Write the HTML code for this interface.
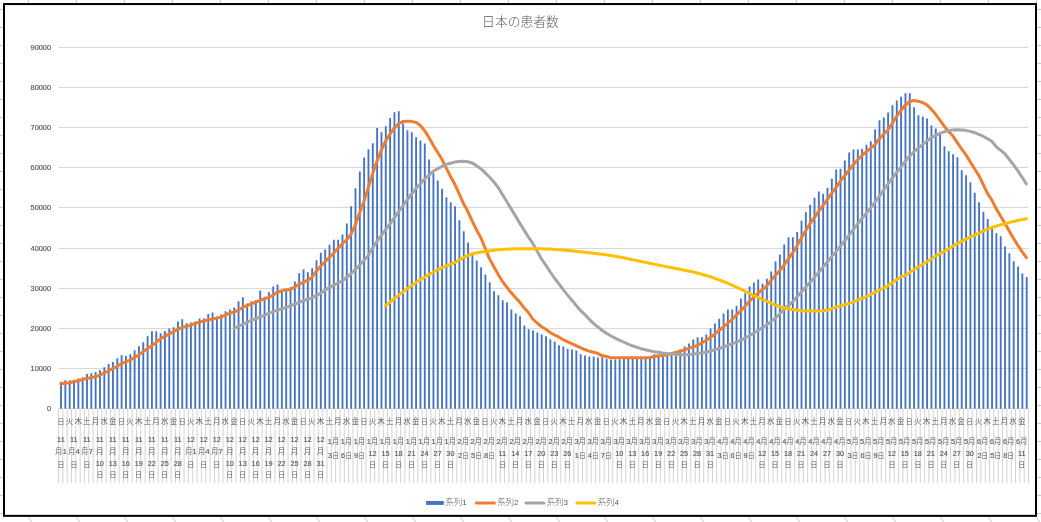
<!DOCTYPE html>
<html lang="ja"><head><meta charset="utf-8"><title>日本の患者数</title>
<style>html,body{margin:0;padding:0;background:#fff;overflow:hidden}body{width:1041px;height:522px;position:relative}svg{position:absolute;left:0;top:0;display:block}text{font-family:"Liberation Sans","Noto Sans CJK JP",sans-serif;fill:#595959}.d{font-size:7.3px;stroke:#595959;stroke-width:.14px}.c{font-size:7.6px;font-weight:350}.n{font-size:6.9px;font-weight:350}.l{font-size:8.5px;font-weight:300}.y{font-size:7.4px;stroke:#595959;stroke-width:.18px}.e{font-size:8px}</style>
</head><body>
<svg width="1041" height="522" viewBox="0 0 1041 522">
<rect x="0" y="0" width="1041" height="522" fill="#fff"/>
<path d="M28.5 0V3 M28.5 517l3.2 5 M76.5 0V3 M76.5 517l3.2 5 M124.5 0V3 M124.5 517l3.2 5 M172.5 0V3 M172.5 517l3.2 5 M220.5 0V3 M220.5 517l3.2 5 M268.5 0V3 M268.5 517l3.2 5 M316.5 0V3 M316.5 517l3.2 5 M364.5 0V3 M364.5 517l3.2 5 M412.5 0V3 M412.5 517l3.2 5 M460.5 0V3 M460.5 517l3.2 5 M508.5 0V3 M508.5 517l3.2 5 M556.5 0V3 M556.5 517l3.2 5 M604.5 0V3 M604.5 517l3.2 5 M652.5 0V3 M652.5 517l3.2 5 M700.5 0V3 M700.5 517l3.2 5 M748.5 0V3 M748.5 517l3.2 5 M796.5 0V3 M796.5 517l3.2 5 M844.5 0V3 M844.5 517l3.2 5 M892.5 0V3 M892.5 517l3.2 5 M940.5 0V3 M940.5 517l3.2 5 M988.5 0V3 M988.5 517l3.2 5 M1036.5 0V3 M1036.5 517l3.2 5 M0 9.4H3 M1037 9.4H1041 M0 27.4H3 M1037 27.4H1041 M0 45.4H3 M1037 45.4H1041 M0 63.4H3 M1037 63.4H1041 M0 81.4H3 M1037 81.4H1041 M0 99.4H3 M1037 99.4H1041 M0 117.4H3 M1037 117.4H1041 M0 135.4H3 M1037 135.4H1041 M0 153.4H3 M1037 153.4H1041 M0 171.4H3 M1037 171.4H1041 M0 189.4H3 M1037 189.4H1041 M0 207.4H3 M1037 207.4H1041 M0 225.4H3 M1037 225.4H1041 M0 243.4H3 M1037 243.4H1041 M0 261.4H3 M1037 261.4H1041 M0 279.4H3 M1037 279.4H1041 M0 297.4H3 M1037 297.4H1041 M0 315.4H3 M1037 315.4H1041 M0 333.4H3 M1037 333.4H1041 M0 351.4H3 M1037 351.4H1041 M0 369.4H3 M1037 369.4H1041 M0 387.4H3 M1037 387.4H1041 M0 405.4H3 M1037 405.4H1041 M0 423.4H3 M1037 423.4H1041 M0 441.4H3 M1037 441.4H1041 M0 459.4H3 M1037 459.4H1041 M0 477.4H3 M1037 477.4H1041 M0 495.4H3 M1037 495.4H1041 M0 513.4H3 M1037 513.4H1041" stroke="#c8c8c8" stroke-width="1" fill="none"/>
<rect x="4" y="4.05" width="1032" height="511.8" fill="#fff" stroke="#000" stroke-width="2"/>
<path d="M58.5 368.44H1028.5 M58.5 328.44H1028.5 M58.5 288.44H1028.5 M58.5 248.44H1028.5 M58.5 207.43H1028.5 M58.5 167.43H1028.5 M58.5 127.43H1028.5 M58.5 87.43H1028.5 M58.5 47.43H1028.5" stroke="#d2d2d2" stroke-width="0.9" fill="none"/>
<path d="M58.50 408.8V483 M62.83 408.8V483 M67.16 408.8V483 M71.49 408.8V483 M75.82 408.8V483 M80.15 408.8V483 M84.48 408.8V483 M88.81 408.8V483 M93.14 408.8V483 M97.47 408.8V483 M101.81 408.8V483 M106.14 408.8V483 M110.47 408.8V483 M114.80 408.8V483 M119.13 408.8V483 M123.46 408.8V483 M127.79 408.8V483 M132.12 408.8V483 M136.45 408.8V483 M140.78 408.8V483 M145.11 408.8V483 M149.44 408.8V483 M153.77 408.8V483 M158.10 408.8V483 M162.43 408.8V483 M166.76 408.8V483 M171.09 408.8V483 M175.42 408.8V483 M179.75 408.8V483 M184.08 408.8V483 M188.41 408.8V483 M192.75 408.8V483 M197.08 408.8V483 M201.41 408.8V483 M205.74 408.8V483 M210.07 408.8V483 M214.40 408.8V483 M218.73 408.8V483 M223.06 408.8V483 M227.39 408.8V483 M231.72 408.8V483 M236.05 408.8V483 M240.38 408.8V483 M244.71 408.8V483 M249.04 408.8V483 M253.37 408.8V483 M257.70 408.8V483 M262.03 408.8V483 M266.36 408.8V483 M270.69 408.8V483 M275.02 408.8V483 M279.36 408.8V483 M283.69 408.8V483 M288.02 408.8V483 M292.35 408.8V483 M296.68 408.8V483 M301.01 408.8V483 M305.34 408.8V483 M309.67 408.8V483 M314.00 408.8V483 M318.33 408.8V483 M322.66 408.8V483 M326.99 408.8V483 M331.32 408.8V483 M335.65 408.8V483 M339.98 408.8V483 M344.31 408.8V483 M348.64 408.8V483 M352.97 408.8V483 M357.30 408.8V483 M361.63 408.8V483 M365.97 408.8V483 M370.30 408.8V483 M374.63 408.8V483 M378.96 408.8V483 M383.29 408.8V483 M387.62 408.8V483 M391.95 408.8V483 M396.28 408.8V483 M400.61 408.8V483 M404.94 408.8V483 M409.27 408.8V483 M413.60 408.8V483 M417.93 408.8V483 M422.26 408.8V483 M426.59 408.8V483 M430.92 408.8V483 M435.25 408.8V483 M439.58 408.8V483 M443.91 408.8V483 M448.25 408.8V483 M452.58 408.8V483 M456.91 408.8V483 M461.24 408.8V483 M465.57 408.8V483 M469.90 408.8V483 M474.23 408.8V483 M478.56 408.8V483 M482.89 408.8V483 M487.22 408.8V483 M491.55 408.8V483 M495.88 408.8V483 M500.21 408.8V483 M504.54 408.8V483 M508.87 408.8V483 M513.20 408.8V483 M517.53 408.8V483 M521.86 408.8V483 M526.19 408.8V483 M530.52 408.8V483 M534.86 408.8V483 M539.19 408.8V483 M543.52 408.8V483 M547.85 408.8V483 M552.18 408.8V483 M556.51 408.8V483 M560.84 408.8V483 M565.17 408.8V483 M569.50 408.8V483 M573.83 408.8V483 M578.16 408.8V483 M582.49 408.8V483 M586.82 408.8V483 M591.15 408.8V483 M595.48 408.8V483 M599.81 408.8V483 M604.14 408.8V483 M608.47 408.8V483 M612.80 408.8V483 M617.13 408.8V483 M621.46 408.8V483 M625.80 408.8V483 M630.13 408.8V483 M634.46 408.8V483 M638.79 408.8V483 M643.12 408.8V483 M647.45 408.8V483 M651.78 408.8V483 M656.11 408.8V483 M660.44 408.8V483 M664.77 408.8V483 M669.10 408.8V483 M673.43 408.8V483 M677.76 408.8V483 M682.09 408.8V483 M686.42 408.8V483 M690.75 408.8V483 M695.08 408.8V483 M699.41 408.8V483 M703.74 408.8V483 M708.07 408.8V483 M712.41 408.8V483 M716.74 408.8V483 M721.07 408.8V483 M725.40 408.8V483 M729.73 408.8V483 M734.06 408.8V483 M738.39 408.8V483 M742.72 408.8V483 M747.05 408.8V483 M751.38 408.8V483 M755.71 408.8V483 M760.04 408.8V483 M764.37 408.8V483 M768.70 408.8V483 M773.03 408.8V483 M777.36 408.8V483 M781.69 408.8V483 M786.02 408.8V483 M790.35 408.8V483 M794.68 408.8V483 M799.02 408.8V483 M803.35 408.8V483 M807.68 408.8V483 M812.01 408.8V483 M816.34 408.8V483 M820.67 408.8V483 M825.00 408.8V483 M829.33 408.8V483 M833.66 408.8V483 M837.99 408.8V483 M842.32 408.8V483 M846.65 408.8V483 M850.98 408.8V483 M855.31 408.8V483 M859.64 408.8V483 M863.97 408.8V483 M868.30 408.8V483 M872.63 408.8V483 M876.96 408.8V483 M881.29 408.8V483 M885.63 408.8V483 M889.96 408.8V483 M894.29 408.8V483 M898.62 408.8V483 M902.95 408.8V483 M907.28 408.8V483 M911.61 408.8V483 M915.94 408.8V483 M920.27 408.8V483 M924.60 408.8V483 M928.93 408.8V483 M933.26 408.8V483 M937.59 408.8V483 M941.92 408.8V483 M946.25 408.8V483 M950.58 408.8V483 M954.91 408.8V483 M959.24 408.8V483 M963.57 408.8V483 M967.90 408.8V483 M972.24 408.8V483 M976.57 408.8V483 M980.90 408.8V483 M985.23 408.8V483 M989.56 408.8V483 M993.89 408.8V483 M998.22 408.8V483 M1002.55 408.8V483 M1006.88 408.8V483 M1011.21 408.8V483 M1015.54 408.8V483 M1019.87 408.8V483 M1024.20 408.8V483 M1028.53 408.8V483" stroke="#c4c4c4" stroke-width="0.75" fill="none"/>
<path d="M57.5 428.8H1029.5" stroke="#fff" stroke-opacity="0.6" stroke-width="1" fill="none"/>
<path d="M58.5 408.44H1028.5" stroke="#d9d9d9" stroke-width="0.8" fill="none"/>
<path d="M60.08 408.8V381.64h1.85V408.8z M64.41 408.8V380.16h1.85V408.8z M68.74 408.8V380.16h1.85V408.8z M73.07 408.8V379.64h1.85V408.8z M77.40 408.8V378.44h1.85V408.8z M81.73 408.8V377.24h1.85V408.8z M86.06 408.8V374.12h1.85V408.8z M90.39 408.8V373.24h1.85V408.8z M94.72 408.8V372.04h1.85V408.8z M99.05 408.8V370.16h1.85V408.8z M103.38 408.8V367.24h1.85V408.8z M107.71 408.8V364.12h1.85V408.8z M112.04 408.8V362.04h1.85V408.8z M116.37 408.8V358.28h1.85V408.8z M120.70 408.8V355.16h1.85V408.8z M125.03 408.8V356.04h1.85V408.8z M129.36 408.8V354.32h1.85V408.8z M133.69 408.8V350.36h1.85V408.8z M138.02 408.8V346.20h1.85V408.8z M142.35 408.8V342.24h1.85V408.8z M146.69 408.8V336.20h1.85V408.8z M151.02 408.8V331.36h1.85V408.8z M155.35 408.8V331.36h1.85V408.8z M159.68 408.8V333.24h1.85V408.8z M164.01 408.8V331.36h1.85V408.8z M168.34 408.8V328.44h1.85V408.8z M172.67 408.8V327.24h1.85V408.8z M177.00 408.8V321.56h1.85V408.8z M181.33 408.8V319.32h1.85V408.8z M185.66 408.8V323.24h1.85V408.8z M189.99 408.8V322.44h1.85V408.8z M194.32 408.8V321.56h1.85V408.8z M198.65 408.8V318.44h1.85V408.8z M202.98 408.8V318.44h1.85V408.8z M207.31 408.8V314.12h1.85V408.8z M211.64 408.8V312.44h1.85V408.8z M215.97 408.8V316.44h1.85V408.8z M220.30 408.8V314.44h1.85V408.8z M224.63 408.8V311.36h1.85V408.8z M228.96 408.8V309.48h1.85V408.8z M233.29 408.8V307.44h1.85V408.8z M237.63 408.8V301.32h1.85V408.8z M241.96 408.8V297.36h1.85V408.8z M246.29 408.8V303.44h1.85V408.8z M250.62 408.8V301.32h1.85V408.8z M254.95 408.8V300.12h1.85V408.8z M259.28 408.8V290.44h1.85V408.8z M263.61 408.8V296.64h1.85V408.8z M267.94 408.8V292.20h1.85V408.8z M272.27 408.8V286.44h1.85V408.8z M276.60 408.8V284.44h1.85V408.8z M280.93 408.8V291.24h1.85V408.8z M285.26 408.8V290.44h1.85V408.8z M289.59 408.8V287.24h1.85V408.8z M293.92 408.8V281.40h1.85V408.8z M298.25 408.8V273.24h1.85V408.8z M302.58 408.8V269.40h1.85V408.8z M306.91 408.8V272.32h1.85V408.8z M311.24 408.8V268.36h1.85V408.8z M315.57 408.8V260.20h1.85V408.8z M319.90 408.8V252.64h1.85V408.8z M324.24 408.8V249.56h1.85V408.8z M328.57 408.8V244.67h1.85V408.8z M332.90 408.8V239.83h1.85V408.8z M337.23 408.8V239.83h1.85V408.8z M341.56 408.8V234.58h1.85V408.8z M345.89 408.8V223.55h1.85V408.8z M350.22 408.8V206.23h1.85V408.8z M354.55 408.8V188.31h1.85V408.8z M358.88 408.8V171.43h1.85V408.8z M363.21 408.8V157.43h1.85V408.8z M367.54 408.8V149.27h1.85V408.8z M371.87 408.8V143.19h1.85V408.8z M376.20 408.8V127.95h1.85V408.8z M380.53 408.8V132.27h1.85V408.8z M384.86 408.8V126.23h1.85V408.8z M389.19 408.8V118.07h1.85V408.8z M393.52 408.8V112.35h1.85V408.8z M397.85 408.8V111.15h1.85V408.8z M402.18 408.8V123.43h1.85V408.8z M406.51 408.8V130.23h1.85V408.8z M410.85 408.8V132.27h1.85V408.8z M415.18 408.8V137.13h1.85V408.8z M419.51 408.8V140.43h1.85V408.8z M423.84 408.8V143.55h1.85V408.8z M428.17 408.8V159.47h1.85V408.8z M432.50 408.8V173.27h1.85V408.8z M436.83 408.8V180.43h1.85V408.8z M441.16 408.8V188.63h1.85V408.8z M445.49 408.8V197.19h1.85V408.8z M449.82 408.8V202.31h1.85V408.8z M454.15 408.8V206.23h1.85V408.8z M458.48 408.8V220.23h1.85V408.8z M462.81 408.8V231.22h1.85V408.8z M467.14 408.8V242.49h1.85V408.8z M471.47 408.8V252.64h1.85V408.8z M475.80 408.8V260.44h1.85V408.8z M480.13 408.8V267.36h1.85V408.8z M484.46 408.8V274.60h1.85V408.8z M488.79 408.8V282.36h1.85V408.8z M493.12 408.8V291.36h1.85V408.8z M497.46 408.8V295.32h1.85V408.8z M501.79 408.8V300.16h1.85V408.8z M506.12 408.8V302.44h1.85V408.8z M510.45 408.8V309.56h1.85V408.8z M514.78 408.8V313.44h1.85V408.8z M519.11 408.8V316.36h1.85V408.8z M523.44 408.8V325.52h1.85V408.8z M527.77 408.8V329.32h1.85V408.8z M532.10 408.8V330.52h1.85V408.8z M536.43 408.8V332.44h1.85V408.8z M540.76 408.8V334.48h1.85V408.8z M545.09 408.8V336.20h1.85V408.8z M549.42 408.8V339.32h1.85V408.8z M553.75 408.8V341.40h1.85V408.8z M558.08 408.8V345.36h1.85V408.8z M562.41 408.8V346.60h1.85V408.8z M566.74 408.8V348.64h1.85V408.8z M571.07 408.8V349.52h1.85V408.8z M575.40 408.8V350.56h1.85V408.8z M579.74 408.8V354.36h1.85V408.8z M584.07 408.8V355.56h1.85V408.8z M588.40 408.8V356.44h1.85V408.8z M592.73 408.8V356.44h1.85V408.8z M597.06 408.8V357.48h1.85V408.8z M601.39 408.8V357.24h1.85V408.8z M605.72 408.8V358.68h1.85V408.8z M610.05 408.8V359.56h1.85V408.8z M614.38 408.8V359.56h1.85V408.8z M618.71 408.8V359.24h1.85V408.8z M623.04 408.8V358.84h1.85V408.8z M627.37 408.8V358.44h1.85V408.8z M631.70 408.8V358.04h1.85V408.8z M636.03 408.8V358.24h1.85V408.8z M640.36 408.8V358.44h1.85V408.8z M644.69 408.8V358.44h1.85V408.8z M649.02 408.8V357.24h1.85V408.8z M653.35 408.8V354.36h1.85V408.8z M657.68 408.8V355.64h1.85V408.8z M662.01 408.8V356.24h1.85V408.8z M666.35 408.8V355.44h1.85V408.8z M670.68 408.8V354.76h1.85V408.8z M675.01 408.8V353.72h1.85V408.8z M679.34 408.8V349.48h1.85V408.8z M683.67 408.8V346.44h1.85V408.8z M688.00 408.8V343.44h1.85V408.8z M692.33 408.8V339.44h1.85V408.8z M696.66 408.8V337.36h1.85V408.8z M700.99 408.8V337.36h1.85V408.8z M705.32 408.8V334.44h1.85V408.8z M709.65 408.8V328.40h1.85V408.8z M713.98 408.8V323.56h1.85V408.8z M718.31 408.8V318.72h1.85V408.8z M722.64 408.8V313.52h1.85V408.8z M726.97 408.8V309.40h1.85V408.8z M731.30 408.8V309.40h1.85V408.8z M735.63 408.8V305.76h1.85V408.8z M739.96 408.8V298.48h1.85V408.8z M744.29 408.8V293.32h1.85V408.8z M748.62 408.8V286.52h1.85V408.8z M752.96 408.8V282.52h1.85V408.8z M757.29 408.8V279.52h1.85V408.8z M761.62 408.8V283.64h1.85V408.8z M765.95 408.8V278.68h1.85V408.8z M770.28 408.8V271.60h1.85V408.8z M774.61 408.8V261.40h1.85V408.8z M778.94 408.8V254.48h1.85V408.8z M783.27 408.8V244.38h1.85V408.8z M787.60 408.8V237.29h1.85V408.8z M791.93 408.8V237.29h1.85V408.8z M796.26 408.8V231.95h1.85V408.8z M800.59 408.8V220.80h1.85V408.8z M804.92 408.8V212.35h1.85V408.8z M809.25 408.8V205.03h1.85V408.8z M813.58 408.8V197.75h1.85V408.8z M817.91 408.8V191.51h1.85V408.8z M822.24 408.8V193.75h1.85V408.8z M826.57 408.8V187.71h1.85V408.8z M830.90 408.8V178.67h1.85V408.8z M835.23 408.8V169.51h1.85V408.8z M839.57 408.8V168.63h1.85V408.8z M843.90 408.8V160.51h1.85V408.8z M848.23 408.8V152.55h1.85V408.8z M852.56 408.8V149.59h1.85V408.8z M856.89 408.8V149.51h1.85V408.8z M861.22 408.8V148.63h1.85V408.8z M865.55 408.8V144.67h1.85V408.8z M869.88 408.8V141.35h1.85V408.8z M874.21 408.8V129.59h1.85V408.8z M878.54 408.8V120.33h1.85V408.8z M882.87 408.8V117.39h1.85V408.8z M887.20 408.8V112.55h1.85V408.8z M891.53 408.8V105.27h1.85V408.8z M895.86 408.8V100.59h1.85V408.8z M900.19 408.8V96.63h1.85V408.8z M904.52 408.8V93.15h1.85V408.8z M908.85 408.8V93.15h1.85V408.8z M913.18 408.8V107.35h1.85V408.8z M917.51 408.8V115.31h1.85V408.8z M921.84 408.8V116.51h1.85V408.8z M926.17 408.8V118.59h1.85V408.8z M930.51 408.8V125.51h1.85V408.8z M934.84 408.8V128.39h1.85V408.8z M939.17 408.8V134.23h1.85V408.8z M943.50 408.8V146.23h1.85V408.8z M947.83 408.8V151.35h1.85V408.8z M952.16 408.8V154.23h1.85V408.8z M956.49 408.8V157.35h1.85V408.8z M960.82 408.8V170.35h1.85V408.8z M965.15 408.8V175.27h1.85V408.8z M969.48 408.8V182.23h1.85V408.8z M973.81 408.8V192.79h1.85V408.8z M978.14 408.8V202.23h1.85V408.8z M982.47 408.8V211.74h1.85V408.8z M986.80 408.8V219.04h1.85V408.8z M991.13 408.8V228.76h1.85V408.8z M995.46 408.8V233.23h1.85V408.8z M999.79 408.8V236.22h1.85V408.8z M1004.12 408.8V246.55h1.85V408.8z M1008.45 408.8V253.28h1.85V408.8z M1012.78 408.8V261.24h1.85V408.8z M1017.12 408.8V266.48h1.85V408.8z M1021.45 408.8V273.40h1.85V408.8z M1025.78 408.8V276.96h1.85V408.8z" fill="#4472c4"/>
<path d="M60.70 383.64 L65.03 383.22 L69.36 382.79 L73.69 381.80 L78.02 380.76 L82.35 379.64 L86.68 378.52 L91.01 377.64 L95.34 376.78 L99.67 375.11 L104.00 372.98 L108.34 370.81 L112.67 368.65 L117.00 366.49 L121.33 363.61 L125.66 361.82 L129.99 360.09 L134.32 357.55 L138.65 354.97 L142.98 351.87 L147.31 348.75 L151.64 345.81 L155.97 342.39 L160.30 338.94 L164.63 336.30 L168.96 334.12 L173.29 331.96 L177.62 329.41 L181.95 327.63 L186.28 326.33 L190.62 325.04 L194.95 323.58 L199.28 322.12 L203.61 320.99 L207.94 319.87 L212.27 318.98 L216.60 318.10 L220.93 317.25 L225.26 315.19 L229.59 313.22 L233.92 312.22 L238.25 310.19 L242.58 307.45 L246.91 305.72 L251.24 304.00 L255.57 302.26 L259.90 300.52 L264.23 298.96 L268.56 297.38 L272.89 295.38 L277.22 292.26 L281.56 290.85 L285.89 289.64 L290.22 289.84 L294.55 287.04 L298.88 284.43 L303.21 282.43 L307.54 280.42 L311.87 277.47 L316.20 271.43 L320.53 266.23 L324.86 261.90 L329.19 257.58 L333.52 253.20 L337.85 248.36 L342.18 243.93 L346.51 240.00 L350.84 234.73 L355.17 225.20 L359.50 212.99 L363.83 201.69 L368.17 188.13 L372.50 173.92 L376.83 161.78 L381.16 150.50 L385.49 141.33 L389.82 134.30 L394.15 128.18 L398.48 123.79 L402.81 121.45 L407.14 121.37 L411.47 121.37 L415.80 122.36 L420.13 125.27 L424.46 130.42 L428.79 137.30 L433.12 145.10 L437.45 152.05 L441.78 158.98 L446.11 167.64 L450.44 176.30 L454.78 184.18 L459.11 193.59 L463.44 203.41 L467.77 211.33 L472.10 220.88 L476.43 229.68 L480.76 237.62 L485.09 247.99 L489.42 258.63 L493.75 266.56 L498.08 274.33 L502.41 281.29 L506.74 287.06 L511.07 292.60 L515.40 297.47 L519.73 302.12 L524.06 307.82 L528.39 312.53 L532.72 319.01 L537.05 322.99 L541.39 326.50 L545.72 329.16 L550.05 332.55 L554.38 334.87 L558.71 336.96 L563.04 339.54 L567.37 341.65 L571.70 343.54 L576.03 345.62 L580.36 347.70 L584.69 349.52 L589.02 351.11 L593.35 352.19 L597.68 353.38 L602.01 355.58 L606.34 356.54 L610.67 357.41 L615.00 357.78 L619.33 357.80 L623.66 357.80 L628.00 357.80 L632.33 357.80 L636.66 357.80 L640.99 357.80 L645.32 357.70 L649.65 357.49 L653.98 356.68 L658.31 355.84 L662.64 355.43 L666.97 354.78 L671.30 353.66 L675.63 352.49 L679.96 351.32 L684.29 349.89 L688.62 348.43 L692.95 346.88 L697.28 345.31 L701.61 342.98 L705.94 340.55 L710.27 337.42 L714.61 334.21 L718.94 330.63 L723.27 327.00 L727.60 323.28 L731.93 319.56 L736.26 315.28 L740.59 310.95 L744.92 306.63 L749.25 301.39 L753.58 297.23 L757.91 293.25 L762.24 289.73 L766.57 286.27 L770.90 280.64 L775.23 275.37 L779.56 270.94 L783.89 265.07 L788.22 259.01 L792.55 252.96 L796.88 246.08 L801.22 238.21 L805.55 231.00 L809.88 223.90 L814.21 217.59 L818.54 211.61 L822.87 205.71 L827.20 199.67 L831.53 193.60 L835.86 187.51 L840.19 181.42 L844.52 175.84 L848.85 170.32 L853.18 165.06 L857.51 159.85 L861.84 155.76 L866.17 151.85 L870.50 148.33 L874.83 144.86 L879.16 138.97 L883.50 134.39 L887.83 130.06 L892.16 123.46 L896.49 116.52 L900.82 110.53 L905.15 105.22 L909.48 101.76 L913.81 100.56 L918.14 101.14 L922.47 102.46 L926.80 104.88 L931.13 108.94 L935.46 114.02 L939.79 119.95 L944.12 126.03 L948.45 131.37 L952.78 135.82 L957.11 142.39 L961.44 148.59 L965.77 154.65 L970.11 161.62 L974.44 168.51 L978.77 175.41 L983.10 184.24 L987.43 193.45 L991.76 199.85 L996.09 208.55 L1000.42 215.73 L1004.75 222.99 L1009.08 230.72 L1013.41 238.29 L1017.74 245.22 L1022.07 251.65 L1026.40 257.60" stroke="#ed7d31" stroke-width="3" fill="none" stroke-linejoin="round" stroke-linecap="round"/>
<path d="M233.92 328.44 L238.25 326.46 L242.58 324.44 L246.91 322.42 L251.24 320.39 L255.57 318.76 L259.90 317.14 L264.23 315.30 L268.56 313.46 L272.89 311.83 L277.22 310.21 L281.56 308.94 L285.89 307.68 L290.22 305.96 L294.55 304.24 L298.88 302.49 L303.21 300.75 L307.54 299.31 L311.87 297.86 L316.20 295.56 L320.53 293.24 L324.86 290.36 L329.19 287.48 L333.52 285.31 L337.85 283.13 L342.18 280.93 L346.51 277.47 L350.84 273.98 L355.17 269.63 L359.50 265.27 L363.83 260.50 L368.17 255.65 L372.50 247.86 L376.83 241.68 L381.16 235.54 L385.49 229.84 L389.82 224.15 L394.15 218.02 L398.48 211.88 L402.81 205.78 L407.14 199.79 L411.47 194.21 L415.80 188.65 L420.13 183.95 L424.46 179.27 L428.79 175.29 L433.12 171.32 L437.45 168.86 L441.78 166.44 L446.11 164.35 L450.44 163.21 L454.78 162.09 L459.11 161.55 L463.44 161.31 L467.77 161.68 L472.10 163.05 L476.43 165.63 L480.76 168.65 L485.09 172.63 L489.42 176.98 L493.75 181.76 L498.08 187.40 L502.41 194.47 L506.74 201.54 L511.07 208.64 L515.40 215.89 L519.73 223.14 L524.06 230.11 L528.39 237.01 L532.72 243.36 L537.05 251.10 L541.39 258.75 L545.72 265.17 L550.05 271.74 L554.38 277.96 L558.71 283.57 L563.04 289.41 L567.37 294.90 L571.70 300.07 L576.03 305.28 L580.36 310.41 L584.69 314.44 L589.02 319.07 L593.35 323.37 L597.68 326.85 L602.01 330.28 L606.34 333.23 L610.67 335.78 L615.00 338.06 L619.33 340.13 L623.66 342.02 L628.00 344.09 L632.33 345.79 L636.66 347.20 L640.99 348.70 L645.32 349.74 L649.65 350.77 L653.98 351.64 L658.31 352.32 L662.64 352.99 L666.97 353.50 L671.30 353.86 L675.63 354.19 L679.96 354.55 L684.29 354.64 L688.62 354.64 L692.95 354.11 L697.28 353.43 L701.61 352.81 L705.94 352.21 L710.27 351.06 L714.61 349.76 L718.94 348.45 L723.27 347.15 L727.60 345.52 L731.93 343.79 L736.26 342.05 L740.59 340.31 L744.92 338.10 L749.25 335.78 L753.58 333.17 L757.91 330.48 L762.24 327.73 L766.57 324.97 L770.90 321.64 L775.23 318.17 L779.56 314.00 L783.89 309.68 L788.22 305.69 L792.55 301.79 L796.88 297.07 L801.22 292.18 L805.55 287.37 L809.88 282.62 L814.21 277.61 L818.54 272.42 L822.87 267.23 L827.20 262.04 L831.53 256.84 L835.86 251.63 L840.19 246.38 L844.52 241.06 L848.85 235.46 L853.18 229.69 L857.51 224.15 L861.84 218.76 L866.17 213.39 L870.50 208.05 L874.83 202.46 L879.16 196.39 L883.50 190.31 L887.83 184.22 L892.16 178.33 L896.49 172.70 L900.82 167.06 L905.15 161.41 L909.48 156.34 L913.81 152.01 L918.14 148.06 L922.47 144.60 L926.80 141.18 L931.13 137.81 L935.46 135.47 L939.79 133.31 L944.12 131.88 L948.45 130.58 L952.78 130.08 L957.11 129.72 L961.44 129.98 L965.77 130.34 L970.11 131.36 L974.44 132.48 L978.77 134.28 L983.10 136.19 L987.43 138.70 L991.76 141.30 L996.09 146.53 L1000.42 150.13 L1004.75 153.72 L1009.08 158.97 L1013.41 164.62 L1017.74 170.64 L1022.07 177.24 L1026.40 183.84" stroke="#a5a5a5" stroke-width="3" fill="none" stroke-linejoin="round" stroke-linecap="round"/>
<path d="M385.49 305.71 L389.82 302.24 L394.15 298.78 L398.48 295.33 L402.81 291.90 L407.14 288.85 L411.47 285.81 L415.80 282.78 L420.13 279.78 L424.46 277.19 L428.79 274.62 L433.12 272.27 L437.45 269.95 L441.78 267.96 L446.11 266.00 L450.44 264.30 L454.78 262.61 L459.11 260.05 L463.44 257.45 L467.77 255.68 L472.10 253.96 L476.43 253.00 L480.76 252.08 L485.09 251.46 L489.42 250.86 L493.75 250.36 L498.08 249.86 L502.41 249.49 L506.74 249.13 L511.07 248.95 L515.40 248.76 L519.73 248.74 L524.06 248.72 L528.39 248.72 L532.72 248.72 L537.05 248.78 L541.39 248.84 L545.72 248.98 L550.05 249.12 L554.38 249.42 L558.71 249.72 L563.04 250.08 L567.37 250.44 L571.70 250.84 L576.03 251.24 L580.36 251.74 L584.69 252.24 L589.02 252.66 L593.35 253.19 L597.68 253.76 L602.01 254.32 L606.34 254.88 L610.67 255.57 L615.00 256.30 L619.33 257.03 L623.66 257.76 L628.00 258.67 L632.33 259.62 L636.66 260.57 L640.99 261.52 L645.32 262.40 L649.65 263.27 L653.98 264.13 L658.31 264.99 L662.64 265.85 L666.97 266.71 L671.30 267.57 L675.63 268.44 L679.96 269.30 L684.29 270.16 L688.62 271.02 L692.95 271.88 L697.28 273.03 L701.61 274.24 L705.94 275.45 L710.27 276.66 L714.61 278.23 L718.94 279.87 L723.27 281.52 L727.60 283.16 L731.93 285.12 L736.26 287.15 L740.59 289.18 L744.92 291.21 L749.25 293.24 L753.58 295.26 L757.91 297.29 L762.24 299.32 L766.57 301.24 L770.90 303.14 L775.23 305.04 L779.56 306.46 L783.89 307.76 L788.22 308.70 L792.55 309.56 L796.88 310.15 L801.22 310.67 L805.55 310.91 L809.88 311.09 L814.21 311.12 L818.54 311.12 L822.87 310.75 L827.20 310.31 L831.53 308.86 L835.86 307.22 L840.19 306.02 L844.52 304.81 L848.85 303.60 L853.18 301.90 L857.51 300.20 L861.84 298.49 L866.17 296.77 L870.50 294.57 L874.83 292.37 L879.16 290.16 L883.50 288.00 L887.83 285.80 L892.16 282.78 L896.49 279.76 L900.82 277.00 L905.15 275.42 L909.48 272.58 L913.81 269.74 L918.14 267.05 L922.47 264.47 L926.80 261.85 L931.13 259.01 L935.46 256.16 L939.79 253.69 L944.12 251.36 L948.45 248.95 L952.78 246.32 L957.11 243.68 L961.44 241.41 L965.77 239.20 L970.11 237.08 L974.44 235.05 L978.77 233.03 L983.10 231.08 L987.43 229.12 L991.76 227.53 L996.09 226.21 L1000.42 224.92 L1004.75 223.78 L1009.08 222.63 L1013.41 221.58 L1017.74 220.57 L1022.07 219.64 L1026.40 218.74" stroke="#ffc000" stroke-width="3" fill="none" stroke-linejoin="round" stroke-linecap="round"/>
<text x="520.5" y="25.7" text-anchor="middle" style="font-size:12.8px;font-weight:300">日本の患者数</text>
<text class="y" x="51.1" y="410.99" text-anchor="end">0</text>
<text class="y" x="51.1" y="370.99" text-anchor="end">10000</text>
<text class="y" x="51.1" y="330.99" text-anchor="end">20000</text>
<text class="y" x="51.1" y="290.99" text-anchor="end">30000</text>
<text class="y" x="51.1" y="250.99" text-anchor="end">40000</text>
<text class="y" x="51.1" y="209.98" text-anchor="end">50000</text>
<text class="y" x="51.1" y="169.98" text-anchor="end">60000</text>
<text class="y" x="51.1" y="129.98" text-anchor="end">70000</text>
<text class="y" x="51.1" y="89.98" text-anchor="end">80000</text>
<text class="y" x="51.1" y="49.98" text-anchor="end">90000</text>
<text class="n" x="60.90" y="423.9" text-anchor="middle">日</text>
<text class="c" x="69.56" y="423.9" text-anchor="middle">火</text>
<text class="c" x="78.21" y="423.9" text-anchor="middle">木</text>
<text class="c" x="86.87" y="423.9" text-anchor="middle">土</text>
<text class="c" x="95.52" y="423.9" text-anchor="middle">月</text>
<text class="c" x="104.18" y="423.9" text-anchor="middle">水</text>
<text class="c" x="112.84" y="423.9" text-anchor="middle">金</text>
<text class="n" x="121.49" y="423.9" text-anchor="middle">日</text>
<text class="c" x="130.15" y="423.9" text-anchor="middle">火</text>
<text class="c" x="138.80" y="423.9" text-anchor="middle">木</text>
<text class="c" x="147.46" y="423.9" text-anchor="middle">土</text>
<text class="c" x="156.12" y="423.9" text-anchor="middle">月</text>
<text class="c" x="164.77" y="423.9" text-anchor="middle">水</text>
<text class="c" x="173.43" y="423.9" text-anchor="middle">金</text>
<text class="n" x="182.08" y="423.9" text-anchor="middle">日</text>
<text class="c" x="190.74" y="423.9" text-anchor="middle">火</text>
<text class="c" x="199.40" y="423.9" text-anchor="middle">木</text>
<text class="c" x="208.05" y="423.9" text-anchor="middle">土</text>
<text class="c" x="216.71" y="423.9" text-anchor="middle">月</text>
<text class="c" x="225.36" y="423.9" text-anchor="middle">水</text>
<text class="c" x="234.02" y="423.9" text-anchor="middle">金</text>
<text class="n" x="242.68" y="423.9" text-anchor="middle">日</text>
<text class="c" x="251.33" y="423.9" text-anchor="middle">火</text>
<text class="c" x="259.99" y="423.9" text-anchor="middle">木</text>
<text class="c" x="268.64" y="423.9" text-anchor="middle">土</text>
<text class="c" x="277.30" y="423.9" text-anchor="middle">月</text>
<text class="c" x="285.96" y="423.9" text-anchor="middle">水</text>
<text class="c" x="294.61" y="423.9" text-anchor="middle">金</text>
<text class="n" x="303.27" y="423.9" text-anchor="middle">日</text>
<text class="c" x="311.92" y="423.9" text-anchor="middle">火</text>
<text class="c" x="320.58" y="423.9" text-anchor="middle">木</text>
<text class="c" x="329.24" y="423.9" text-anchor="middle">土</text>
<text class="c" x="337.89" y="423.9" text-anchor="middle">月</text>
<text class="c" x="346.55" y="423.9" text-anchor="middle">水</text>
<text class="c" x="355.20" y="423.9" text-anchor="middle">金</text>
<text class="n" x="363.86" y="423.9" text-anchor="middle">日</text>
<text class="c" x="372.52" y="423.9" text-anchor="middle">火</text>
<text class="c" x="381.17" y="423.9" text-anchor="middle">木</text>
<text class="c" x="389.83" y="423.9" text-anchor="middle">土</text>
<text class="c" x="398.48" y="423.9" text-anchor="middle">月</text>
<text class="c" x="407.14" y="423.9" text-anchor="middle">水</text>
<text class="c" x="415.80" y="423.9" text-anchor="middle">金</text>
<text class="n" x="424.45" y="423.9" text-anchor="middle">日</text>
<text class="c" x="433.11" y="423.9" text-anchor="middle">火</text>
<text class="c" x="441.76" y="423.9" text-anchor="middle">木</text>
<text class="c" x="450.42" y="423.9" text-anchor="middle">土</text>
<text class="c" x="459.08" y="423.9" text-anchor="middle">月</text>
<text class="c" x="467.73" y="423.9" text-anchor="middle">水</text>
<text class="c" x="476.39" y="423.9" text-anchor="middle">金</text>
<text class="n" x="485.04" y="423.9" text-anchor="middle">日</text>
<text class="c" x="493.70" y="423.9" text-anchor="middle">火</text>
<text class="c" x="502.36" y="423.9" text-anchor="middle">木</text>
<text class="c" x="511.01" y="423.9" text-anchor="middle">土</text>
<text class="c" x="519.67" y="423.9" text-anchor="middle">月</text>
<text class="c" x="528.32" y="423.9" text-anchor="middle">水</text>
<text class="c" x="536.98" y="423.9" text-anchor="middle">金</text>
<text class="n" x="545.64" y="423.9" text-anchor="middle">日</text>
<text class="c" x="554.29" y="423.9" text-anchor="middle">火</text>
<text class="c" x="562.95" y="423.9" text-anchor="middle">木</text>
<text class="c" x="571.60" y="423.9" text-anchor="middle">土</text>
<text class="c" x="580.26" y="423.9" text-anchor="middle">月</text>
<text class="c" x="588.92" y="423.9" text-anchor="middle">水</text>
<text class="c" x="597.57" y="423.9" text-anchor="middle">金</text>
<text class="n" x="606.23" y="423.9" text-anchor="middle">日</text>
<text class="c" x="614.88" y="423.9" text-anchor="middle">火</text>
<text class="c" x="623.54" y="423.9" text-anchor="middle">木</text>
<text class="c" x="632.20" y="423.9" text-anchor="middle">土</text>
<text class="c" x="640.85" y="423.9" text-anchor="middle">月</text>
<text class="c" x="649.51" y="423.9" text-anchor="middle">水</text>
<text class="c" x="658.16" y="423.9" text-anchor="middle">金</text>
<text class="n" x="666.82" y="423.9" text-anchor="middle">日</text>
<text class="c" x="675.48" y="423.9" text-anchor="middle">火</text>
<text class="c" x="684.13" y="423.9" text-anchor="middle">木</text>
<text class="c" x="692.79" y="423.9" text-anchor="middle">土</text>
<text class="c" x="701.44" y="423.9" text-anchor="middle">月</text>
<text class="c" x="710.10" y="423.9" text-anchor="middle">水</text>
<text class="c" x="718.76" y="423.9" text-anchor="middle">金</text>
<text class="n" x="727.41" y="423.9" text-anchor="middle">日</text>
<text class="c" x="736.07" y="423.9" text-anchor="middle">火</text>
<text class="c" x="744.72" y="423.9" text-anchor="middle">木</text>
<text class="c" x="753.38" y="423.9" text-anchor="middle">土</text>
<text class="c" x="762.04" y="423.9" text-anchor="middle">月</text>
<text class="c" x="770.69" y="423.9" text-anchor="middle">水</text>
<text class="c" x="779.35" y="423.9" text-anchor="middle">金</text>
<text class="n" x="788.00" y="423.9" text-anchor="middle">日</text>
<text class="c" x="796.66" y="423.9" text-anchor="middle">火</text>
<text class="c" x="805.32" y="423.9" text-anchor="middle">木</text>
<text class="c" x="813.97" y="423.9" text-anchor="middle">土</text>
<text class="c" x="822.63" y="423.9" text-anchor="middle">月</text>
<text class="c" x="831.28" y="423.9" text-anchor="middle">水</text>
<text class="c" x="839.94" y="423.9" text-anchor="middle">金</text>
<text class="n" x="848.60" y="423.9" text-anchor="middle">日</text>
<text class="c" x="857.25" y="423.9" text-anchor="middle">火</text>
<text class="c" x="865.91" y="423.9" text-anchor="middle">木</text>
<text class="c" x="874.56" y="423.9" text-anchor="middle">土</text>
<text class="c" x="883.22" y="423.9" text-anchor="middle">月</text>
<text class="c" x="891.88" y="423.9" text-anchor="middle">水</text>
<text class="c" x="900.53" y="423.9" text-anchor="middle">金</text>
<text class="n" x="909.19" y="423.9" text-anchor="middle">日</text>
<text class="c" x="917.84" y="423.9" text-anchor="middle">火</text>
<text class="c" x="926.50" y="423.9" text-anchor="middle">木</text>
<text class="c" x="935.16" y="423.9" text-anchor="middle">土</text>
<text class="c" x="943.81" y="423.9" text-anchor="middle">月</text>
<text class="c" x="952.47" y="423.9" text-anchor="middle">水</text>
<text class="c" x="961.12" y="423.9" text-anchor="middle">金</text>
<text class="n" x="969.78" y="423.9" text-anchor="middle">日</text>
<text class="c" x="978.44" y="423.9" text-anchor="middle">火</text>
<text class="c" x="987.09" y="423.9" text-anchor="middle">木</text>
<text class="c" x="995.75" y="423.9" text-anchor="middle">土</text>
<text class="c" x="1004.40" y="423.9" text-anchor="middle">月</text>
<text class="c" x="1013.06" y="423.9" text-anchor="middle">水</text>
<text class="c" x="1021.72" y="423.9" text-anchor="middle">金</text>
<text text-anchor="middle"><tspan class="d" x="60.90" y="441.9">11</tspan><tspan class="c" x="60.90" y="454.0">月</tspan><tspan class="d">1</tspan><tspan class="n" x="60.90" y="466.9">日</tspan></text>
<text text-anchor="middle"><tspan class="d" x="73.88" y="441.9">11</tspan><tspan class="c" x="73.88" y="454.0">月</tspan><tspan class="d">4</tspan><tspan class="n" x="73.88" y="466.9">日</tspan></text>
<text text-anchor="middle"><tspan class="d" x="86.87" y="441.9">11</tspan><tspan class="c" x="86.87" y="454.0">月</tspan><tspan class="d">7</tspan><tspan class="n" x="86.87" y="466.9">日</tspan></text>
<text text-anchor="middle"><tspan class="d" x="99.85" y="441.9">11</tspan><tspan class="c" x="99.85" y="454.0">月</tspan><tspan class="d" x="99.85" y="465.8">10</tspan><tspan class="n" x="99.85" y="477.0">日</tspan></text>
<text text-anchor="middle"><tspan class="d" x="112.84" y="441.9">11</tspan><tspan class="c" x="112.84" y="454.0">月</tspan><tspan class="d" x="112.84" y="465.8">13</tspan><tspan class="n" x="112.84" y="477.0">日</tspan></text>
<text text-anchor="middle"><tspan class="d" x="125.82" y="441.9">11</tspan><tspan class="c" x="125.82" y="454.0">月</tspan><tspan class="d" x="125.82" y="465.8">16</tspan><tspan class="n" x="125.82" y="477.0">日</tspan></text>
<text text-anchor="middle"><tspan class="d" x="138.80" y="441.9">11</tspan><tspan class="c" x="138.80" y="454.0">月</tspan><tspan class="d" x="138.80" y="465.8">19</tspan><tspan class="n" x="138.80" y="477.0">日</tspan></text>
<text text-anchor="middle"><tspan class="d" x="151.79" y="441.9">11</tspan><tspan class="c" x="151.79" y="454.0">月</tspan><tspan class="d" x="151.79" y="465.8">22</tspan><tspan class="n" x="151.79" y="477.0">日</tspan></text>
<text text-anchor="middle"><tspan class="d" x="164.77" y="441.9">11</tspan><tspan class="c" x="164.77" y="454.0">月</tspan><tspan class="d" x="164.77" y="465.8">25</tspan><tspan class="n" x="164.77" y="477.0">日</tspan></text>
<text text-anchor="middle"><tspan class="d" x="177.76" y="441.9">11</tspan><tspan class="c" x="177.76" y="454.0">月</tspan><tspan class="d" x="177.76" y="465.8">28</tspan><tspan class="n" x="177.76" y="477.0">日</tspan></text>
<text text-anchor="middle"><tspan class="d" x="190.74" y="441.9">12</tspan><tspan class="c" x="190.74" y="454.0">月</tspan><tspan class="d">1</tspan><tspan class="n" x="190.74" y="466.9">日</tspan></text>
<text text-anchor="middle"><tspan class="d" x="203.72" y="441.9">12</tspan><tspan class="c" x="203.72" y="454.0">月</tspan><tspan class="d">4</tspan><tspan class="n" x="203.72" y="466.9">日</tspan></text>
<text text-anchor="middle"><tspan class="d" x="216.71" y="441.9">12</tspan><tspan class="c" x="216.71" y="454.0">月</tspan><tspan class="d">7</tspan><tspan class="n" x="216.71" y="466.9">日</tspan></text>
<text text-anchor="middle"><tspan class="d" x="229.69" y="441.9">12</tspan><tspan class="c" x="229.69" y="454.0">月</tspan><tspan class="d" x="229.69" y="465.8">10</tspan><tspan class="n" x="229.69" y="477.0">日</tspan></text>
<text text-anchor="middle"><tspan class="d" x="242.68" y="441.9">12</tspan><tspan class="c" x="242.68" y="454.0">月</tspan><tspan class="d" x="242.68" y="465.8">13</tspan><tspan class="n" x="242.68" y="477.0">日</tspan></text>
<text text-anchor="middle"><tspan class="d" x="255.66" y="441.9">12</tspan><tspan class="c" x="255.66" y="454.0">月</tspan><tspan class="d" x="255.66" y="465.8">16</tspan><tspan class="n" x="255.66" y="477.0">日</tspan></text>
<text text-anchor="middle"><tspan class="d" x="268.64" y="441.9">12</tspan><tspan class="c" x="268.64" y="454.0">月</tspan><tspan class="d" x="268.64" y="465.8">19</tspan><tspan class="n" x="268.64" y="477.0">日</tspan></text>
<text text-anchor="middle"><tspan class="d" x="281.63" y="441.9">12</tspan><tspan class="c" x="281.63" y="454.0">月</tspan><tspan class="d" x="281.63" y="465.8">22</tspan><tspan class="n" x="281.63" y="477.0">日</tspan></text>
<text text-anchor="middle"><tspan class="d" x="294.61" y="441.9">12</tspan><tspan class="c" x="294.61" y="454.0">月</tspan><tspan class="d" x="294.61" y="465.8">25</tspan><tspan class="n" x="294.61" y="477.0">日</tspan></text>
<text text-anchor="middle"><tspan class="d" x="307.60" y="441.9">12</tspan><tspan class="c" x="307.60" y="454.0">月</tspan><tspan class="d" x="307.60" y="465.8">28</tspan><tspan class="n" x="307.60" y="477.0">日</tspan></text>
<text text-anchor="middle"><tspan class="d" x="320.58" y="441.9">12</tspan><tspan class="c" x="320.58" y="454.0">月</tspan><tspan class="d" x="320.58" y="465.8">31</tspan><tspan class="n" x="320.58" y="477.0">日</tspan></text>
<text text-anchor="middle"><tspan class="d" x="333.56" y="444.0">1</tspan><tspan class="c">月</tspan><tspan class="d" x="333.56" y="457.5">3</tspan><tspan class="n">日</tspan></text>
<text text-anchor="middle"><tspan class="d" x="346.55" y="444.0">1</tspan><tspan class="c">月</tspan><tspan class="d" x="346.55" y="457.5">6</tspan><tspan class="n">日</tspan></text>
<text text-anchor="middle"><tspan class="d" x="359.53" y="444.0">1</tspan><tspan class="c">月</tspan><tspan class="d" x="359.53" y="457.5">9</tspan><tspan class="n">日</tspan></text>
<text text-anchor="middle"><tspan class="d" x="372.52" y="444.0">1</tspan><tspan class="c">月</tspan><tspan class="d" x="372.52" y="456.0">12</tspan><tspan class="n" x="372.52" y="466.9">日</tspan></text>
<text text-anchor="middle"><tspan class="d" x="385.50" y="444.0">1</tspan><tspan class="c">月</tspan><tspan class="d" x="385.50" y="456.0">15</tspan><tspan class="n" x="385.50" y="466.9">日</tspan></text>
<text text-anchor="middle"><tspan class="d" x="398.48" y="444.0">1</tspan><tspan class="c">月</tspan><tspan class="d" x="398.48" y="456.0">18</tspan><tspan class="n" x="398.48" y="466.9">日</tspan></text>
<text text-anchor="middle"><tspan class="d" x="411.47" y="444.0">1</tspan><tspan class="c">月</tspan><tspan class="d" x="411.47" y="456.0">21</tspan><tspan class="n" x="411.47" y="466.9">日</tspan></text>
<text text-anchor="middle"><tspan class="d" x="424.45" y="444.0">1</tspan><tspan class="c">月</tspan><tspan class="d" x="424.45" y="456.0">24</tspan><tspan class="n" x="424.45" y="466.9">日</tspan></text>
<text text-anchor="middle"><tspan class="d" x="437.44" y="444.0">1</tspan><tspan class="c">月</tspan><tspan class="d" x="437.44" y="456.0">27</tspan><tspan class="n" x="437.44" y="466.9">日</tspan></text>
<text text-anchor="middle"><tspan class="d" x="450.42" y="444.0">1</tspan><tspan class="c">月</tspan><tspan class="d" x="450.42" y="456.0">30</tspan><tspan class="n" x="450.42" y="466.9">日</tspan></text>
<text text-anchor="middle"><tspan class="d" x="463.40" y="444.0">2</tspan><tspan class="c">月</tspan><tspan class="d" x="463.40" y="457.5">2</tspan><tspan class="n">日</tspan></text>
<text text-anchor="middle"><tspan class="d" x="476.39" y="444.0">2</tspan><tspan class="c">月</tspan><tspan class="d" x="476.39" y="457.5">5</tspan><tspan class="n">日</tspan></text>
<text text-anchor="middle"><tspan class="d" x="489.37" y="444.0">2</tspan><tspan class="c">月</tspan><tspan class="d" x="489.37" y="457.5">8</tspan><tspan class="n">日</tspan></text>
<text text-anchor="middle"><tspan class="d" x="502.36" y="444.0">2</tspan><tspan class="c">月</tspan><tspan class="d" x="502.36" y="456.0">11</tspan><tspan class="n" x="502.36" y="466.9">日</tspan></text>
<text text-anchor="middle"><tspan class="d" x="515.34" y="444.0">2</tspan><tspan class="c">月</tspan><tspan class="d" x="515.34" y="456.0">14</tspan><tspan class="n" x="515.34" y="466.9">日</tspan></text>
<text text-anchor="middle"><tspan class="d" x="528.32" y="444.0">2</tspan><tspan class="c">月</tspan><tspan class="d" x="528.32" y="456.0">17</tspan><tspan class="n" x="528.32" y="466.9">日</tspan></text>
<text text-anchor="middle"><tspan class="d" x="541.31" y="444.0">2</tspan><tspan class="c">月</tspan><tspan class="d" x="541.31" y="456.0">20</tspan><tspan class="n" x="541.31" y="466.9">日</tspan></text>
<text text-anchor="middle"><tspan class="d" x="554.29" y="444.0">2</tspan><tspan class="c">月</tspan><tspan class="d" x="554.29" y="456.0">23</tspan><tspan class="n" x="554.29" y="466.9">日</tspan></text>
<text text-anchor="middle"><tspan class="d" x="567.28" y="444.0">2</tspan><tspan class="c">月</tspan><tspan class="d" x="567.28" y="456.0">26</tspan><tspan class="n" x="567.28" y="466.9">日</tspan></text>
<text text-anchor="middle"><tspan class="d" x="580.26" y="444.0">3</tspan><tspan class="c">月</tspan><tspan class="d" x="580.26" y="457.5">1</tspan><tspan class="n">日</tspan></text>
<text text-anchor="middle"><tspan class="d" x="593.24" y="444.0">3</tspan><tspan class="c">月</tspan><tspan class="d" x="593.24" y="457.5">4</tspan><tspan class="n">日</tspan></text>
<text text-anchor="middle"><tspan class="d" x="606.23" y="444.0">3</tspan><tspan class="c">月</tspan><tspan class="d" x="606.23" y="457.5">7</tspan><tspan class="n">日</tspan></text>
<text text-anchor="middle"><tspan class="d" x="619.21" y="444.0">3</tspan><tspan class="c">月</tspan><tspan class="d" x="619.21" y="456.0">10</tspan><tspan class="n" x="619.21" y="466.9">日</tspan></text>
<text text-anchor="middle"><tspan class="d" x="632.20" y="444.0">3</tspan><tspan class="c">月</tspan><tspan class="d" x="632.20" y="456.0">13</tspan><tspan class="n" x="632.20" y="466.9">日</tspan></text>
<text text-anchor="middle"><tspan class="d" x="645.18" y="444.0">3</tspan><tspan class="c">月</tspan><tspan class="d" x="645.18" y="456.0">16</tspan><tspan class="n" x="645.18" y="466.9">日</tspan></text>
<text text-anchor="middle"><tspan class="d" x="658.16" y="444.0">3</tspan><tspan class="c">月</tspan><tspan class="d" x="658.16" y="456.0">19</tspan><tspan class="n" x="658.16" y="466.9">日</tspan></text>
<text text-anchor="middle"><tspan class="d" x="671.15" y="444.0">3</tspan><tspan class="c">月</tspan><tspan class="d" x="671.15" y="456.0">22</tspan><tspan class="n" x="671.15" y="466.9">日</tspan></text>
<text text-anchor="middle"><tspan class="d" x="684.13" y="444.0">3</tspan><tspan class="c">月</tspan><tspan class="d" x="684.13" y="456.0">25</tspan><tspan class="n" x="684.13" y="466.9">日</tspan></text>
<text text-anchor="middle"><tspan class="d" x="697.12" y="444.0">3</tspan><tspan class="c">月</tspan><tspan class="d" x="697.12" y="456.0">28</tspan><tspan class="n" x="697.12" y="466.9">日</tspan></text>
<text text-anchor="middle"><tspan class="d" x="710.10" y="444.0">3</tspan><tspan class="c">月</tspan><tspan class="d" x="710.10" y="456.0">31</tspan><tspan class="n" x="710.10" y="466.9">日</tspan></text>
<text text-anchor="middle"><tspan class="d" x="723.08" y="444.0">4</tspan><tspan class="c">月</tspan><tspan class="d" x="723.08" y="457.5">3</tspan><tspan class="n">日</tspan></text>
<text text-anchor="middle"><tspan class="d" x="736.07" y="444.0">4</tspan><tspan class="c">月</tspan><tspan class="d" x="736.07" y="457.5">6</tspan><tspan class="n">日</tspan></text>
<text text-anchor="middle"><tspan class="d" x="749.05" y="444.0">4</tspan><tspan class="c">月</tspan><tspan class="d" x="749.05" y="457.5">9</tspan><tspan class="n">日</tspan></text>
<text text-anchor="middle"><tspan class="d" x="762.04" y="444.0">4</tspan><tspan class="c">月</tspan><tspan class="d" x="762.04" y="456.0">12</tspan><tspan class="n" x="762.04" y="466.9">日</tspan></text>
<text text-anchor="middle"><tspan class="d" x="775.02" y="444.0">4</tspan><tspan class="c">月</tspan><tspan class="d" x="775.02" y="456.0">15</tspan><tspan class="n" x="775.02" y="466.9">日</tspan></text>
<text text-anchor="middle"><tspan class="d" x="788.00" y="444.0">4</tspan><tspan class="c">月</tspan><tspan class="d" x="788.00" y="456.0">18</tspan><tspan class="n" x="788.00" y="466.9">日</tspan></text>
<text text-anchor="middle"><tspan class="d" x="800.99" y="444.0">4</tspan><tspan class="c">月</tspan><tspan class="d" x="800.99" y="456.0">21</tspan><tspan class="n" x="800.99" y="466.9">日</tspan></text>
<text text-anchor="middle"><tspan class="d" x="813.97" y="444.0">4</tspan><tspan class="c">月</tspan><tspan class="d" x="813.97" y="456.0">24</tspan><tspan class="n" x="813.97" y="466.9">日</tspan></text>
<text text-anchor="middle"><tspan class="d" x="826.96" y="444.0">4</tspan><tspan class="c">月</tspan><tspan class="d" x="826.96" y="456.0">27</tspan><tspan class="n" x="826.96" y="466.9">日</tspan></text>
<text text-anchor="middle"><tspan class="d" x="839.94" y="444.0">4</tspan><tspan class="c">月</tspan><tspan class="d" x="839.94" y="456.0">30</tspan><tspan class="n" x="839.94" y="466.9">日</tspan></text>
<text text-anchor="middle"><tspan class="d" x="852.92" y="444.0">5</tspan><tspan class="c">月</tspan><tspan class="d" x="852.92" y="457.5">3</tspan><tspan class="n">日</tspan></text>
<text text-anchor="middle"><tspan class="d" x="865.91" y="444.0">5</tspan><tspan class="c">月</tspan><tspan class="d" x="865.91" y="457.5">6</tspan><tspan class="n">日</tspan></text>
<text text-anchor="middle"><tspan class="d" x="878.89" y="444.0">5</tspan><tspan class="c">月</tspan><tspan class="d" x="878.89" y="457.5">9</tspan><tspan class="n">日</tspan></text>
<text text-anchor="middle"><tspan class="d" x="891.88" y="444.0">5</tspan><tspan class="c">月</tspan><tspan class="d" x="891.88" y="456.0">12</tspan><tspan class="n" x="891.88" y="466.9">日</tspan></text>
<text text-anchor="middle"><tspan class="d" x="904.86" y="444.0">5</tspan><tspan class="c">月</tspan><tspan class="d" x="904.86" y="456.0">15</tspan><tspan class="n" x="904.86" y="466.9">日</tspan></text>
<text text-anchor="middle"><tspan class="d" x="917.84" y="444.0">5</tspan><tspan class="c">月</tspan><tspan class="d" x="917.84" y="456.0">18</tspan><tspan class="n" x="917.84" y="466.9">日</tspan></text>
<text text-anchor="middle"><tspan class="d" x="930.83" y="444.0">5</tspan><tspan class="c">月</tspan><tspan class="d" x="930.83" y="456.0">21</tspan><tspan class="n" x="930.83" y="466.9">日</tspan></text>
<text text-anchor="middle"><tspan class="d" x="943.81" y="444.0">5</tspan><tspan class="c">月</tspan><tspan class="d" x="943.81" y="456.0">24</tspan><tspan class="n" x="943.81" y="466.9">日</tspan></text>
<text text-anchor="middle"><tspan class="d" x="956.80" y="444.0">5</tspan><tspan class="c">月</tspan><tspan class="d" x="956.80" y="456.0">27</tspan><tspan class="n" x="956.80" y="466.9">日</tspan></text>
<text text-anchor="middle"><tspan class="d" x="969.78" y="444.0">5</tspan><tspan class="c">月</tspan><tspan class="d" x="969.78" y="456.0">30</tspan><tspan class="n" x="969.78" y="466.9">日</tspan></text>
<text text-anchor="middle"><tspan class="d" x="982.76" y="444.0">6</tspan><tspan class="c">月</tspan><tspan class="d" x="982.76" y="457.5">2</tspan><tspan class="n">日</tspan></text>
<text text-anchor="middle"><tspan class="d" x="995.75" y="444.0">6</tspan><tspan class="c">月</tspan><tspan class="d" x="995.75" y="457.5">5</tspan><tspan class="n">日</tspan></text>
<text text-anchor="middle"><tspan class="d" x="1008.73" y="444.0">6</tspan><tspan class="c">月</tspan><tspan class="d" x="1008.73" y="457.5">8</tspan><tspan class="n">日</tspan></text>
<text text-anchor="middle"><tspan class="d" x="1021.72" y="444.0">6</tspan><tspan class="c">月</tspan><tspan class="d" x="1021.72" y="456.0">11</tspan><tspan class="n" x="1021.72" y="466.9">日</tspan></text>
<rect x="426.1" y="501.00" width="17.7" height="3.9" fill="#4472c4"/>
<text class="l" x="445.3" y="505.3">系列<tspan class="e">1</tspan></text>
<path d="M476.4 502.95h18" stroke="#ed7d31" stroke-width="3" stroke-linecap="round" fill="none"/>
<text class="l" x="497.1" y="505.3">系列<tspan class="e">2</tspan></text>
<path d="M525.9 502.95h18" stroke="#a5a5a5" stroke-width="3" stroke-linecap="round" fill="none"/>
<text class="l" x="546.6" y="505.3">系列<tspan class="e">3</tspan></text>
<path d="M576.9 502.95h18" stroke="#ffc000" stroke-width="3" stroke-linecap="round" fill="none"/>
<text class="l" x="597.6" y="505.3">系列<tspan class="e">4</tspan></text>
</svg></body></html>
